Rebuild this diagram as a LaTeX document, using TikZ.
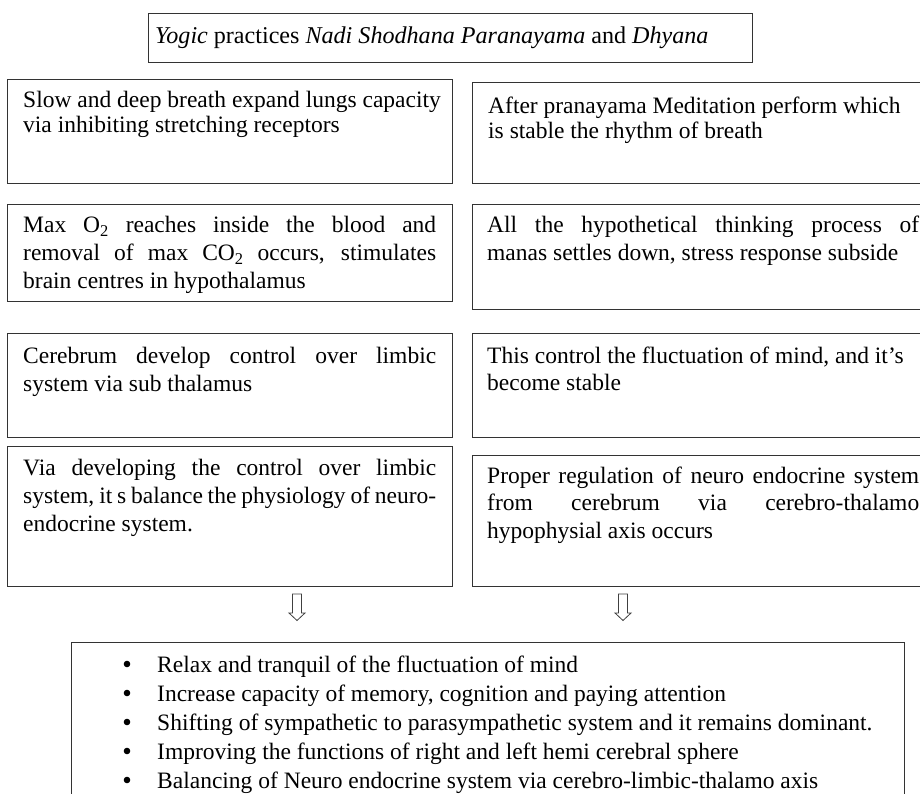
\documentclass[tikz,border=0pt]{standalone}
\usepackage{fontspec}
\setmainfont{Liberation Serif}
\newcommand{\jst}[2]{\makebox[#1][s]{#2}}
\newcommand{\boxtext}[2]{\parbox[t]{780pt}{\fontsize{23.5}{#1}\selectfont #2}}
\begin{document}
\begin{tikzpicture}[x=1pt,y=-1pt,
  box/.style={draw=black!80, line width=1.1pt, rectangle, inner sep=0pt, anchor=north west},
  txt/.style={anchor=base west, inner sep=0pt, font=\fontsize{23.5}{28}\selectfont},
  dot/.style={circle, fill=black, draw=none, inner sep=0pt, minimum size=6.6pt},
  hollow/.style={draw=black!75, line width=0.8pt, line join=miter}]
\useasboundingbox (0,0) rectangle (920,794);
\fill[white] (0,0) rectangle (920,794);
\clip (0,0) rectangle (920,794);

% top box
\node[box, minimum width=604pt, minimum height=49pt] (top) at (148,13) {};
\node[txt, font=\fontsize{24.1}{28}\selectfont] (ttop) at (155,44) {\textit{Yogic} practices \textit{Nadi Shodhana Paranayama} and \textit{Dhyana}};

% left column
\node[box, minimum width=445pt, minimum height=104pt] (L1) at (7,79) {};
\node[txt] (tL1) at (23,108) {\boxtext{25}{Slow and deep breath expand lungs capacity\\via inhibiting stretching receptors}};

\node[box, minimum width=445pt, minimum height=97pt] (L2) at (7,204) {};
\node[txt] (tL2) at (23,233) {\boxtext{28}{\jst{413pt}{Max O\textsubscript{2} reaches inside the blood and}\\\jst{413pt}{removal of max CO\textsubscript{2} occurs, stimulates}\\brain centres in hypothalamus}};

\node[box, minimum width=445pt, minimum height=104pt] (L3) at (7,333) {};
\node[txt] (tL3) at (23,363) {\boxtext{28}{\jst{413pt}{Cerebrum develop control over limbic}\\system via sub thalamus}};

\node[box, minimum width=445pt, minimum height=140pt] (L4) at (7,446) {};
\node[txt] (tL4) at (23,475) {\boxtext{28}{\jst{413pt}{Via developing the control over limbic}\\\jst{413pt}{system, it s balance the physiology of neuro-}\\endocrine system.}};

% right column
\node[box, minimum width=468pt, minimum height=101pt] (R1) at (472,82) {};
\node[txt] (tR1) at (488,114) {\boxtext{25}{After pranayama Meditation perform which\\is stable the rhythm of breath}};

\node[box, minimum width=468pt, minimum height=105pt] (R2) at (472,204) {};
\node[txt] (tR2) at (487,233) {\boxtext{28}{\jst{432pt}{All the hypothetical thinking process of}\\manas settles down, stress response subside}};

\node[box, minimum width=468pt, minimum height=104pt] (R3) at (472,333) {};
\node[txt] (tR3) at (487,363) {\boxtext{27}{This control the fluctuation of mind, and it’s\\become stable}};

\node[box, minimum width=468pt, minimum height=131pt] (R4) at (472,455) {};
\node[txt] (tR4) at (487,483) {\boxtext{27.5}{\jst{432pt}{Proper regulation of neuro endocrine system}\\\jst{432pt}{from cerebrum via cerebro-thalamo}\\hypophysial axis occurs}};

% hollow arrows
\coordinate (a1) at (297,594);
\coordinate (a2) at (623,594);
\foreach \a in {a1,a2}{
  \draw[hollow] (\a) ++(-4.5,0) -- ++(0,19) -- ++(-3.5,0) -- ++(8,7.5) -- ++(8,-7.5) -- ++(-3.5,0) -- ++(0,-19) -- cycle;
}

% bottom box
\node[box, minimum width=833pt, minimum height=180pt] (B) at (71,642) {};
\foreach \i in {0,...,4}{
  \node[dot] (b\i) at (127,664+29*\i) {};
}
\node[txt] (tB) at (157,672) {\boxtext{29}{Relax and tranquil of the fluctuation of mind\\Increase capacity of memory, cognition and paying attention\\Shifting of sympathetic to parasympathetic system and it remains dominant.\\Improving the functions of right and left hemi cerebral sphere\\Balancing of Neuro endocrine system via cerebro-limbic-thalamo axis}};
\end{tikzpicture}
\end{document}
